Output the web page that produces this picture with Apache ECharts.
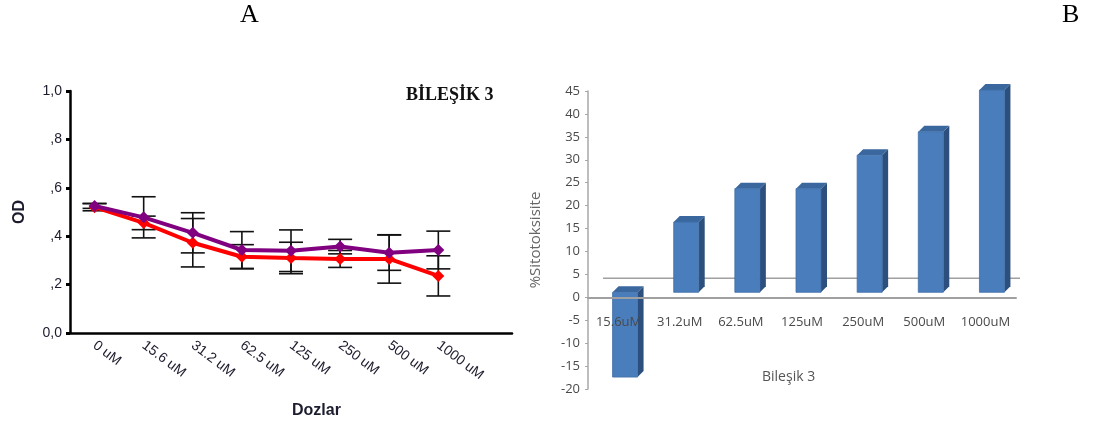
<!DOCTYPE html>
<html>
<head>
<meta charset="utf-8">
<script src="https://cdn.jsdelivr.net/npm/echarts@6/dist/echarts.min.js"></script>
<style>
  html, body { margin: 0; padding: 0; background: #fff; }
  #chart { width: 1093px; height: 423px; }
</style>
</head>
<body>
<div id="chart"></div>
<script>
// panel A - OD per dose
const doses = ['0 uM', '15.6 uM', '31.2 uM', '62.5 uM', '125 uM', '250 uM', '500 uM', '1000 uM']
const odPurple = [0.525, 0.478, 0.414, 0.343, 0.340, 0.357, 0.332, 0.343]
const odPurpleErr = [0.010, 0.085, 0.083, 0.076, 0.086, 0.030, 0.073, 0.078]
const odRed = [0.520, 0.455, 0.373, 0.315, 0.310, 0.306, 0.306, 0.236]
const odRedErr = [0.015, 0.028, 0.100, 0.050, 0.065, 0.035, 0.100, 0.083]
const odTicks = [0, 0.2, 0.4, 0.6, 0.8, 1.0]
const odTickLabels = ['0,0', ',2', ',4', ',6', ',8', '1,0']

// panel B - % cytotoxicity
const cytoDoses = ['15.6uM', '31.2uM', '62.5uM', '125uM', '250uM', '500uM', '1000uM']
const cytotox = [-17.4, 16.4, 23.7, 23.7, 31.0, 36.1, 45.2]

const sans = "'Liberation Sans', Arial, sans-serif"
const soft = "'Open Sans', sans-serif"
const serif = "'Liberation Serif', 'Times New Roman', serif"

const chart = echarts.init(document.getElementById('chart'))

const errRows = (vals, errs) => vals.map((v, i) => [i, v - errs[i], v + errs[i]])

const renderErr = (params, api) => {
    const lo = api.coord([api.value(0), api.value(1)])
    const hi = api.coord([api.value(0), api.value(2)])
    const x = lo[0], c = 12
    const st = { stroke: '#111', lineWidth: 1.6 }
    return {
        type: 'group',
        children: [
            { type: 'line', shape: { x1: x, y1: lo[1], x2: x, y2: hi[1] }, style: st },
            { type: 'line', shape: { x1: x - c, y1: lo[1], x2: x + c, y2: lo[1] }, style: st },
            { type: 'line', shape: { x1: x - c, y1: hi[1], x2: x + c, y2: hi[1] }, style: st }
        ]
    }
}

// excel style 3d column
const renderBar3d = (params, api) => {
    const base = api.coord([api.value(0), 0])
    const end = api.coord([api.value(0), api.value(1)])
    const x0 = base[0] - 6, w = 25, d = 6
    const yb = base[1] - 5
    const yt = Math.min(yb, end[1]), ybot = Math.max(yb, end[1])
    return {
        type: 'group',
        children: [
            { type: 'polygon', shape: { points: [[x0 + w, yt], [x0 + w + d, yt - d], [x0 + w + d, ybot - d], [x0 + w, ybot]] }, style: { fill: '#2c4f7e' } },
            { type: 'polygon', shape: { points: [[x0, yt], [x0 + d, yt - d], [x0 + w + d, yt - d], [x0 + w, yt]] }, style: { fill: '#3b679f' } },
            { type: 'rect', shape: { x: x0, y: yt, width: w, height: ybot - yt }, style: { fill: '#4a7dbb', stroke: '#3f6fa8', lineWidth: 0.8 } }
        ]
    }
}

const option = {
    animation: false,
    backgroundColor: '#fff',
    grid: [
        { left: 70, top: 91, width: 442, height: 242 },
        { left: 588, top: 91, width: 428, height: 298 }
    ],
    xAxis: [
        {
            type: 'category', gridIndex: 0,
            data: doses.concat(['']),
            boundaryGap: true,
            axisLine: { lineStyle: { color: '#000', width: 2.5 } },
            axisTick: { alignWithLabel: true, length: 4, interval: (i) => i < doses.length, lineStyle: { color: '#000', width: 3 } },
            axisLabel: { interval: 0, rotate: -37, margin: 11, color: '#1c1c2e', fontFamily: sans, fontSize: 14 },
            splitLine: { show: false }
        },
        {
            type: 'category', gridIndex: 1, z: 5,
            data: cytoDoses,
            offset: 0,
            axisLine: { onZero: false, lineStyle: { color: '#a0a0a0', width: 2 } },
            axisTick: { length: 5, lineStyle: { color: '#a0a0a0', width: 1 } },
            axisLabel: { interval: 0, margin: 18, color: '#4a4a4a', fontFamily: soft, fontSize: 13 },
            splitLine: { show: false }
        }
    ],
    yAxis: [
        {
            type: 'value', gridIndex: 0,
            min: 0, max: 1.0, interval: 0.2,
            name: 'OD', nameLocation: 'middle', nameGap: 42,
            nameTextStyle: { fontFamily: sans, fontWeight: 'bold', fontSize: 16, color: '#1c1c2e' },
            axisLine: { show: true, lineStyle: { color: '#000', width: 2.5 } },
            axisTick: { show: true, length: 4, lineStyle: { color: '#000', width: 3 } },
            axisLabel: { margin: 8, color: '#1c1c2e', fontFamily: sans, fontSize: 14,
                formatter: (v) => odTickLabels[odTicks.findIndex(t => Math.abs(t - v) < 1e-6)] },
            splitLine: { show: false }
        },
        {
            type: 'value', gridIndex: 1,
            min: -20, max: 45, interval: 5,
            name: '%Sitotoksisite', nameLocation: 'middle', nameGap: 45,
            nameTextStyle: { fontFamily: soft, fontSize: 15, color: '#666' },
            axisLine: { show: true, lineStyle: { color: '#a8a8a8', width: 1.5 } },
            axisTick: { show: true, length: 3, lineStyle: { color: '#a8a8a8' } },
            axisLabel: { margin: 8, color: '#4a4a4a', fontFamily: soft, fontSize: 13 },
            splitLine: { show: false }
        }
    ],
    graphic: [
        { type: 'text', id: 'A', left: 240, top: 2, style: { text: 'A', font: '26px ' + serif, fill: '#000' } },
        { type: 'text', id: 'B', left: 1062, top: 2, style: { text: 'B', font: '26px ' + serif, fill: '#000' } },
        { type: 'text', id: 'title', left: 406, top: 86, style: { text: 'BİLEŞİK 3', font: 'bold 18px ' + serif, fill: '#111' } },
        { type: 'text', id: 'dozlar', left: 292, top: 403, style: { text: 'Dozlar', font: 'bold 16px ' + sans, fill: '#1c1c2e' } },
        { type: 'text', id: 'bilesik', left: 762, top: 370, style: { text: 'Bileşik 3', font: '14px ' + soft, fill: '#555' } }
    ],
    series: [
        { type: 'custom', xAxisIndex: 0, yAxisIndex: 0, z: 1, renderItem: renderErr, data: errRows(odRed, odRedErr) },
        { type: 'custom', xAxisIndex: 0, yAxisIndex: 0, z: 1, renderItem: renderErr, data: errRows(odPurple, odPurpleErr) },
        {
            type: 'line', xAxisIndex: 0, yAxisIndex: 0, z: 2,
            data: odRed, symbol: 'diamond', symbolSize: 12,
            lineStyle: { color: '#ff0000', width: 4 }, itemStyle: { color: '#ff0000' }
        },
        {
            type: 'line', xAxisIndex: 0, yAxisIndex: 0, z: 3,
            data: odPurple, symbol: 'diamond', symbolSize: 12,
            lineStyle: { color: '#800080', width: 4 }, itemStyle: { color: '#800080' }
        },
        {
            type: 'custom', xAxisIndex: 1, yAxisIndex: 1, z: 2,
            renderItem: renderBar3d,
            data: cytotox.map((v, i) => [i, v])
        }
    ]
}

chart.setOption(option)

// move the category axis up to the zero line and add the back edge of the 3d floor
const zero = chart.convertToPixel({ gridIndex: 1 }, [0, 0])
const g = option.grid[1]
chart.setOption({
    xAxis: [{}, { offset: zero[1] - (g.top + g.height) }],
    graphic: [
        { type: 'line', id: 'floor', z: 0, shape: { x1: g.left + 15, y1: zero[1] - 19, x2: g.left + g.width + 4, y2: zero[1] - 19 }, style: { stroke: '#a0a0a0', lineWidth: 1.5 } }
    ]
})
</script>
</body>
</html>
